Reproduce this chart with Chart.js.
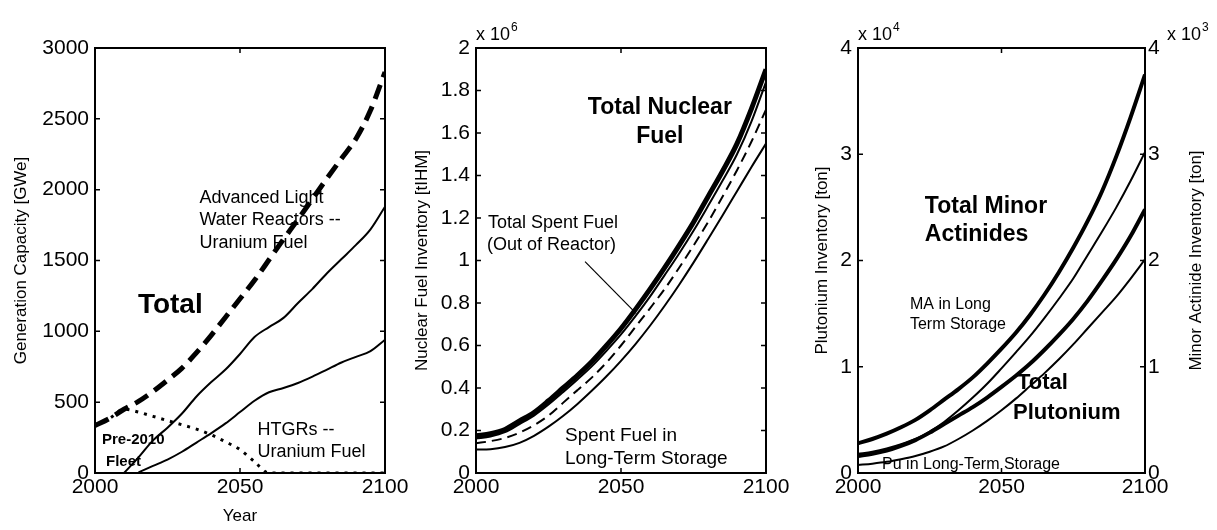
<!DOCTYPE html>
<html>
<head>
<meta charset="utf-8">
<script src="https://cdn.jsdelivr.net/npm/chart.js@4.4.1/dist/chart.umd.min.js"></script>
<style>
  body { margin: 0; background: #fff; width: 1217px; height: 530px; position: relative; overflow: hidden; }
  canvas { position: absolute; top: 0; }
</style>
</head>
<body>
<canvas id="cap" width="420" height="530" style="left:0"></canvas>
<canvas id="fuel" width="420" height="530" style="left:400px"></canvas>
<canvas id="act" width="417" height="530" style="left:800px"></canvas>
<script>
// Data, one value every 5 years
const years = [2000, 2005, 2010, 2015, 2020, 2025, 2030, 2035, 2040, 2045, 2050,
               2055, 2060, 2065, 2070, 2075, 2080, 2085, 2090, 2095, 2100];

// Left panel - generation capacity [GWe]
const totalCap = [335, 385, 450, 505, 575, 655, 740, 850, 970, 1100, 1230,
                  1360, 1505, 1650, 1790, 1935, 2080, 2220, 2360, 2560, 2830];
const alwrCap = [null, null, 0, 110, 230, 320, 420, 540, 640, 730, 840,
                 960, 1030, 1095, 1200, 1300, 1410, 1510, 1610, 1720, 1880];
const htgrCap = [null, null, null, 5, 50, 95, 150, 215, 280, 350, 430,
                 510, 570, 600, 635, 680, 730, 780, 820, 860, 940];
const fleetCap = [335, 385, 450, 430, 400, 370, 340, 310, 270, 220, 165,
                  80, 0, 0, 0, 0, 0, 0, 0, 0, 0];

// Middle panel - nuclear fuel inventory [tIHM]
const totalFuel = [175000, 185000, 205000, 245000, 285000, 340000, 400000, 460000, 525000, 600000, 680000,
                   770000, 865000, 965000, 1070000, 1180000, 1300000, 1420000, 1550000, 1715000, 1900000];
const spentFuel = [162000, 172000, 192000, 230000, 270000, 322000, 380000, 440000, 503000, 575000, 652000,
                   738000, 830000, 930000, 1032000, 1140000, 1256000, 1375000, 1500000, 1655000, 1840000];
const dashedFuel = [140000, 150000, 165000, 190000, 225000, 270000, 330000, 390000, 450000, 520000, 600000,
                    688000, 775000, 865000, 965000, 1070000, 1180000, 1300000, 1425000, 1560000, 1710000];
const storedFuel = [110000, 112000, 122000, 142000, 175000, 218000, 268000, 325000, 388000, 455000, 528000,
                    607000, 693000, 786000, 885000, 990000, 1100000, 1212000, 1326000, 1440000, 1550000];

// Right panel - minor actinides (right axis) and plutonium (left axis) [ton]
const totalMA = [280, 320, 370, 430, 500, 590, 690, 790, 900, 1030, 1170,
                 1320, 1490, 1680, 1890, 2120, 2370, 2650, 2980, 3350, 3750];
const storedMA = [180, 200, 230, 270, 320, 390, 480, 590, 710, 840, 985,
                  1135, 1290, 1460, 1640, 1830, 2050, 2270, 2500, 2750, 3020];
const totalPu = [1600, 1800, 2100, 2550, 3100, 3800, 4600, 5400, 6200, 7100, 8100,
                 9150, 10300, 11600, 13000, 14500, 16200, 18100, 20100, 22300, 24800];
const storedPu = [750, 880, 1050, 1300, 1600, 2000, 2500, 3200, 4000, 4900, 5900,
                  7000, 8200, 9400, 10700, 12100, 13600, 15100, 16600, 18300, 20100];

const FONT = "'Liberation Sans', Arial, sans-serif";
Chart.defaults.font.family = FONT;
Chart.defaults.color = '#000';

function line(label, data, width, dash, yAxisID) {
  return {
    label: label,
    data: data,
    yAxisID: yAxisID || 'y',
    borderColor: '#000',
    borderWidth: width,
    borderDash: dash || [],
    pointRadius: 0,
    fill: false,
    cubicInterpolationMode: 'monotone'
  };
}

function xAxis(showTitle) {
  return {
    type: 'linear', min: 2000, max: 2100,
    afterFit: s => { s.height = 57; },
    grid: { display: false, drawTicks: false },
    border: { display: false },
    ticks: { stepSize: 50, padding: 2, maxRotation: 0, font: { size: 21 }, callback: v => String(v) },
    title: { display: showTitle, text: 'Year', font: { size: 17 }, padding: { top: 0, bottom: 3 } }
  };
}

function yAxis(max, step, width, fmt, title, pos, pad) {
  return {
    type: 'linear', min: 0, max: max, position: pos || 'left',
    afterFit: s => { s.width = width; },
    grid: { display: false, drawTicks: false },
    border: { display: false },
    ticks: { stepSize: step, padding: pos === 'right' ? 3 : 6, font: { size: 21 }, callback: fmt },
    title: { display: !!title, text: title, font: { size: 17 }, padding: { top: pad || 12, bottom: 0 } }
  };
}

// box round the plot with inward ticks on every side
const frame = {
  id: 'frame',
  afterDatasetsDraw(chart) {
    const { ctx, chartArea: a, scales } = chart;
    ctx.save();
    ctx.strokeStyle = '#000';
    ctx.lineWidth = 2;
    ctx.strokeRect(a.left, a.top, a.right - a.left, a.bottom - a.top);
    ctx.lineWidth = 1.5;
    ctx.beginPath();
    scales.x.ticks.forEach(t => {
      const p = scales.x.getPixelForValue(t.value);
      ctx.moveTo(p, a.bottom); ctx.lineTo(p, a.bottom - 5);
      ctx.moveTo(p, a.top); ctx.lineTo(p, a.top + 5);
    });
    scales.y.ticks.forEach(t => {
      const p = scales.y.getPixelForValue(t.value);
      ctx.moveTo(a.left, p); ctx.lineTo(a.left + 5, p);
      ctx.moveTo(a.right, p); ctx.lineTo(a.right - 5, p);
    });
    ctx.stroke();
    ctx.restore();
  }
};

// text labels placed in data coordinates
function notes(list, arrows) {
  return {
    id: 'notes',
    beforeDatasetsDraw(chart) {
      const { ctx, scales } = chart;
      ctx.save();
      ctx.fillStyle = '#000';
      ctx.textBaseline = 'middle';
      list.forEach(n => {
        ctx.font = n.font + ' ' + FONT;
        ctx.textAlign = n.align || 'left';
        ctx.fillText(n.text, scales.x.getPixelForValue(n.x), scales[n.axis || 'y'].getPixelForValue(n.y));
      });
      (arrows || []).forEach(r => {
        ctx.strokeStyle = '#000';
        ctx.lineWidth = 1.2;
        ctx.beginPath();
        ctx.moveTo(scales.x.getPixelForValue(r[0]), scales.y.getPixelForValue(r[1]));
        ctx.lineTo(scales.x.getPixelForValue(r[2]), scales.y.getPixelForValue(r[3]));
        ctx.stroke();
      });
      ctx.restore();
    }
  };
}

// "x 10^n" multipliers above the axes, and the right hand axis title
function extras(exps, rightTitle) {
  return {
    id: 'extras',
    afterDraw(chart) {
      const { ctx, chartArea: a } = chart;
      ctx.save();
      ctx.fillStyle = '#000';
      ctx.textBaseline = 'alphabetic';
      ctx.textAlign = 'left';
      exps.forEach(e => {
        const x = e.side === 'right' ? a.right + 22 : a.left;
        ctx.font = '18px ' + FONT;
        ctx.fillText('x 10', x, a.top - 8);
        const w = ctx.measureText('x 10').width;
        ctx.font = '12px ' + FONT;
        ctx.fillText(e.exp, x + w + 1, a.top - 17);
      });
      if (rightTitle) {
        ctx.translate(chart.width - 21, (a.top + a.bottom) / 2);
        ctx.rotate(-Math.PI / 2);
        ctx.textAlign = 'center';
        ctx.textBaseline = 'middle';
        ctx.font = '17px ' + FONT;
        ctx.fillText(rightTitle, 0, 0);
      }
      ctx.restore();
    }
  };
}

const common = {
  responsive: false,
  animation: false,
  plugins: { legend: { display: false }, tooltip: { enabled: false } }
};

// Left panel
new Chart(document.getElementById('cap'), {
  type: 'line',
  data: {
    labels: years,
    datasets: [
      line('Total', years.map((x, i) => ({ x: x, y: totalCap[i] })), 5, [15, 8]),
      line('Advanced LWR', years.map((x, i) => ({ x: x, y: alwrCap[i] })), 2),
      line('HTGR', years.map((x, i) => ({ x: x, y: htgrCap[i] })), 2),
      line('Pre-2010 Fleet', years.map((x, i) => ({ x: x, y: fleetCap[i] })), 3, [3, 6])
    ]
  },
  options: Object.assign({}, common, {
    layout: { padding: { top: 48, right: 35, bottom: 0, left: 0 } },
    scales: {
      x: xAxis(true),
      y: yAxis(3000, 500, 95, v => String(v), 'Generation Capacity [GWe]', 'left', 11)
    }
  }),
  plugins: [frame, notes([
    { text: 'Advanced Light', x: 2036, y: 1940, font: '18px' },
    { text: 'Water Reactors --', x: 2036, y: 1785, font: '18px' },
    { text: 'Uranium Fuel', x: 2036, y: 1620, font: '18px' },
    { text: 'Total', x: 2014.8, y: 1186, font: 'bold 28px' },
    { text: 'Pre-2010', x: 2002.4, y: 233, font: 'bold 15px' },
    { text: 'Fleet', x: 2003.8, y: 78, font: 'bold 15px' },
    { text: 'HTGRs --', x: 2056, y: 304, font: '18px' },
    { text: 'Uranium Fuel', x: 2056, y: 148, font: '18px' }
  ])]
});

// Middle panel
new Chart(document.getElementById('fuel'), {
  type: 'line',
  data: {
    labels: years,
    datasets: [
      line('Total Nuclear Fuel', years.map((x, i) => ({ x: x, y: totalFuel[i] })), 5),
      line('Total Spent Fuel', years.map((x, i) => ({ x: x, y: spentFuel[i] })), 2),
      line('Spent Fuel (dashed)', years.map((x, i) => ({ x: x, y: dashedFuel[i] })), 2, [10, 6]),
      line('Spent Fuel in Long-Term Storage', years.map((x, i) => ({ x: x, y: storedFuel[i] })), 2)
    ]
  },
  options: Object.assign({}, common, {
    layout: { padding: { top: 48, right: 54, bottom: 0, left: 0 } },
    scales: {
      x: xAxis(false),
      y: yAxis(2000000, 200000, 76, v => String(+(v / 1e6).toFixed(1)), 'Nuclear Fuel Inventory [tIHM]')
    }
  }),
  plugins: [frame, extras([{ side: 'left', exp: '6' }]), notes([
    { text: 'Total Nuclear', x: 2063.4, y: 1718000, font: 'bold 23px', align: 'center' },
    { text: 'Fuel', x: 2063.4, y: 1582000, font: 'bold 23px', align: 'center' },
    { text: 'Total Spent Fuel', x: 2004.1, y: 1178000, font: '18px' },
    { text: '(Out of Reactor)', x: 2003.8, y: 1075000, font: '18px' },
    { text: 'Spent Fuel in', x: 2030.7, y: 174000, font: '19px' },
    { text: 'Long-Term Storage', x: 2030.7, y: 66000, font: '19px' }
  ], [[2037.6, 995000, 2055.2, 751000]])]
});

// Right panel
new Chart(document.getElementById('act'), {
  type: 'line',
  data: {
    labels: years,
    datasets: [
      line('Total Minor Actinides', years.map((x, i) => ({ x: x, y: totalMA[i] })), 4, null, 'yMA'),
      line('MA in Long Term Storage', years.map((x, i) => ({ x: x, y: storedMA[i] })), 2, null, 'yMA'),
      line('Total Plutonium', years.map((x, i) => ({ x: x, y: totalPu[i] })), 4),
      line('Pu in Long-Term Storage', years.map((x, i) => ({ x: x, y: storedPu[i] })), 2)
    ]
  },
  options: Object.assign({}, common, {
    layout: { padding: { top: 48, right: 0, bottom: 0, left: 0 } },
    scales: {
      x: xAxis(false),
      y: yAxis(40000, 10000, 58, v => String(v / 1e4), 'Plutonium Inventory [ton]'),
      yMA: yAxis(4000, 1000, 72, v => String(v / 1e3), null, 'right')
    }
  }),
  plugins: [frame, extras([{ side: 'left', exp: '4' }, { side: 'right', exp: '3' }], 'Minor Actinide Inventory [ton]'), notes([
    { text: 'Total Minor', x: 2023.3, y: 25035, font: 'bold 23px' },
    { text: 'Actinides', x: 2023.3, y: 22400, font: 'bold 23px' },
    { text: 'MA in Long', x: 2018.1, y: 15812, font: '16px' },
    { text: 'Term Storage', x: 2018.1, y: 13929, font: '16px' },
    { text: 'Total', x: 2055.4, y: 8471, font: 'bold 22px' },
    { text: 'Plutonium', x: 2054, y: 5647, font: 'bold 22px' },
    { text: 'Pu in Long-Term Storage', x: 2008.4, y: 753, font: '16px' }
  ])]
});
</script>
</body>
</html>
